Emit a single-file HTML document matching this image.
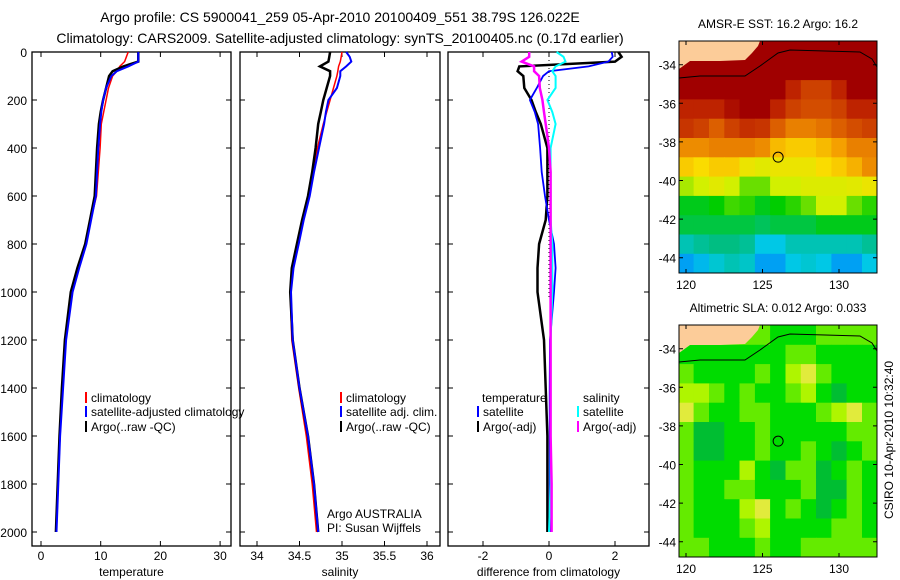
<!DOCTYPE html>
<html><head><meta charset="utf-8"><style>
body{margin:0;background:#fff;}
svg{display:block;font-family:"Liberation Sans",sans-serif;}
</style></head><body>
<svg id="s" width="900" height="580" xmlns="http://www.w3.org/2000/svg">
<text x="340" y="22" font-size="14" text-anchor="middle">Argo profile: CS 5900041_259 05-Apr-2010 20100409_551 38.79S 126.022E</text>
<text x="340" y="43" font-size="14" text-anchor="middle">Climatology: CARS2009. Satellite-adjusted climatology: synTS_20100405.nc (0.17d earlier)</text>
</svg>
<script>
// ---- profile data ----
var depths=[0,20,40,60,80,100,150,200,250,300,400,500,600,700,800,900,1000,1200,1400,1600,1800,2000];
var tempArgo=[16.3,16.3,16.3,13.8,12,11.4,10.9,10.4,10.0,9.7,9.4,9.2,9.0,8.2,7.4,6.1,5.0,4.0,3.5,3.1,2.8,2.5];
var tempClim=[14.6,14.3,14,13.2,12.7,12,11.3,10.9,10.5,10.1,9.9,9.6,9.3,8.3,7.5,6.3,5.2,4.1,3.6,3.2,2.8,2.5];
var tempSat=[16.3,16.3,16.3,14.6,12.7,11.8,10.9,10.4,10.1,9.9,9.6,9.4,9.2,8.4,7.6,6.4,5.3,4.2,3.7,3.2,2.9,2.6];
var salArgo=[34.86,34.85,34.84,34.74,34.86,34.86,34.82,34.78,34.75,34.72,34.69,34.65,34.6,34.53,34.47,34.41,34.39,34.42,34.5,34.6,34.67,34.72];
var salClim=[35.0,34.99,34.98,34.96,34.95,34.94,34.9,34.86,34.82,34.78,34.71,34.66,34.61,34.54,34.48,34.42,34.39,34.41,34.49,34.58,34.65,34.7];
var salSat=[35.05,35.09,35.11,35.05,34.98,34.98,34.94,34.84,34.81,34.79,34.73,34.67,34.62,34.55,34.49,34.43,34.4,34.42,34.5,34.6,34.67,34.72];
var dTempSat=[1.9,1.93,1.8,1.2,0.0,-0.18,-0.37,-0.58,-0.43,-0.33,-0.27,-0.22,-0.12,0,0.15,0.2,0.15,0.03,0.02,0.02,0.02,0.02];
var dTempArgo=[2.1,2.2,2.0,-0.9,-0.95,-0.78,-0.75,-0.53,-0.4,-0.25,-0.05,-0.05,-0.05,-0.1,-0.3,-0.35,-0.35,-0.15,-0.1,-0.05,-0.05,-0.05];
var dSalSat=[0.23,0.44,0.5,0.2,0.1,0.2,0.2,-0.05,0.1,0.2,0.05,0.05,0.05,0.05,0.1,0.1,0.1,0.05,0.05,0.05,0.05,0.0];
var dSalArgo=[-0.6,-0.6,-0.83,-0.45,-0.45,-0.3,-0.28,-0.2,-0.15,-0.1,0,0.05,0.05,0.05,0.05,0.05,0.05,0.05,0.05,0.05,0.08,0.08];
var depthTicks=[0,200,400,600,800,1000,1200,1400,1600,1800,2000];
var tempTicks=[0,10,20,30];
var salTicks=[34,34.5,35,35.5,36];
var salTickLabels=["34","34.5","35","35.5","36"];
var diffTicks=[-2,0,2];
// ---- map data (1-degree cells, rows from north) ----
var mapLons=[120,121,122,123,124,125,126,127,128,129,130,131,132];
var mapLats=[-33.3,-34.3,-35.3,-36.3,-37.3,-38.3,-39.3,-40.3,-41.3,-42.3,-43.3,-44.3];
var sstRows=[
[19,19,19,19,19,19,19,19,19,19,19,19,19],
[19,19,19,19,19,19,19,19,19,19,19,19,19],
[19,19,19,19,19,19,19,18.5,18,18,18.5,19,19],
[18.5,18.5,18.5,18.8,19,19,18.5,18,17.8,17.8,18,18.5,18.5],
[18.2,18,17.5,18,18.3,18.2,17.5,17,17,17.2,17.5,17.8,18],
[16.8,16.8,17,17,17,16.8,16.2,16,16,16.2,16.5,17,17],
[16,15.8,16,16,15.5,15.3,15.5,15.5,15.5,15.8,16,16.3,16.8],
[14.8,15,15.3,15,14.5,14.5,15,15,15.2,15.2,15.2,15.3,15.5],
[13.8,13.8,14,14.3,14.2,13.8,14,14.2,14.5,15,15,14.5,14.2],
[13.5,13.5,13.5,13.5,13.5,13.3,13.5,13.5,13.5,13.8,13.8,13.8,13.8],
[12.5,12.8,13,13,12.8,12,12,12.5,12.5,12.5,12.5,12.5,12.8],
[11.5,11.8,12.2,12.5,12.3,11.5,11.5,12,12.2,12,11.5,11.5,12]];
var slaRows=[
[2,2,2,2,2,2,1,1,1,2,2,2,2],
[1,1,1,1,1,1,1,2,2,1,1,1,1],
[2,1,1,1,1,2,1,3,4,2,1,1,1],
[3,3,2,1,2,1,1,2,3,1,0,1,1],
[4,2,1,1,2,2,1,1,1,2,3,4,2],
[2,0,0,1,1,2,1,1,1,1,1,2,2],
[2,0,0,1,1,2,1,1,2,1,0,1,2],
[2,1,1,1,3,1,0,2,2,0,1,2,1],
[2,1,1,2,2,1,1,1,2,0,0,2,1],
[2,1,1,1,3,4,1,2,1,0,1,2,1],
[2,1,1,1,2,3,1,1,1,1,2,2,1],
[2,2,1,1,1,2,1,1,2,2,2,2,2]];
var latTicks=[-34,-36,-38,-40,-42,-44];
var lonTicks=[120,125,130];
var argoLon=126.022, argoLat=-38.79;

var S=document.getElementById('s'),NS='http://www.w3.org/2000/svg';
function mk(t,a,p){var e=document.createElementNS(NS,t);for(var k in a)e.setAttribute(k,a[k]);(p||S).appendChild(e);return e;}
function yD(d){return 52+d*0.24;}
var pTop=52,pBot=546;
var panels=[
 {x0:32,x1:231,f:function(v){return 41+v*5.97;},ticks:tempTicks,labels:tempTicks.map(String),title:'temperature'},
 {x0:240,x1:440,f:function(v){return 257+(v-34)*85;},ticks:salTicks,labels:salTickLabels,title:'salinity'},
 {x0:448,x1:649,f:function(v){return 549+v*33;},ticks:diffTicks,labels:diffTicks.map(String),title:'difference from climatology'}];
panels.forEach(function(p,i){
 var r=mk('rect',{x:p.x0,y:pTop,width:p.x1-p.x0,height:pBot-pTop,fill:'none',stroke:'#000','stroke-width':1.3});
 
 
 depthTicks.forEach(function(d){
  var t=mk('path',{d:'M'+p.x0+' '+yD(d)+'h5M'+p.x1+' '+yD(d)+'h-5',stroke:'#000'});
  
  
  if(i==0){var l=mk('text',{x:27,y:yD(d)+5,'font-size':12,'text-anchor':'end'});l.textContent=d;
   
   }
 });
 p.ticks.forEach(function(v,j){
  var x=p.f(v);
  var t=mk('path',{d:'M'+x+' '+pBot+'v-5M'+x+' '+pTop+'v5',stroke:'#000'});
  
  
  var l=mk('text',{x:x,y:560,'font-size':12,'text-anchor':'middle'});l.textContent=p.labels[j];
  
  
 });
 var at=mk('text',{x:(p.x0+p.x1)/2,y:576,'font-size':12,'text-anchor':'middle'});at.textContent=p.title;
 
 
});
function line(vals,p,col,w,name){
 var d=vals.map(function(v,k){return (k?'L':'M')+p.f(v).toFixed(1)+' '+yD(depths[k]).toFixed(1);}).join('');
 var e=mk('path',{d:d,fill:'none',stroke:col,'stroke-width':w});
 
 
}
var z=mk('line',{x1:549,x2:549,y1:52,y2:300,stroke:'#000','stroke-dasharray':'1,3'});


line(tempClim,panels[0],'#f00',1.5,'temp-climatology-line');
line(tempArgo,panels[0],'#000',2.5,'temp-argo-line');
line(tempSat,panels[0],'#00f',2,'temp-satellite-line');
line(salClim,panels[1],'#f00',1.5,'sal-climatology-line');
line(salArgo,panels[1],'#000',2.5,'sal-argo-line');
line(salSat,panels[1],'#00f',2,'sal-satellite-line');
line(dTempArgo,panels[2],'#000',2.5,'diff-temp-argo-line');
line(dTempSat,panels[2],'#00f',1.8,'diff-temp-satellite-line');
line(dSalSat,panels[2],'#0ff',2,'diff-sal-satellite-line');
line(dSalArgo,panels[2],'#f0f',2.5,'diff-sal-argo-line');
function leg(x,y,col,txt,name){
 if(col){var b=mk('rect',{x:x-6,y:y-10,width:2,height:11,fill:col});
  
  }
 var t=mk('text',{x:x,y:y,'font-size':12});t.textContent=txt;
 
 
}
leg(91,402,'#f00','climatology','legend-climatology');
leg(91,416,'#00f','satellite-adjusted climatology','legend-satellite-adjusted');
leg(91,431,'#000','Argo(..raw -QC)','legend-argo');
leg(346,402,'#f00','climatology','legend-sal-climatology');
leg(346,416,'#00f','satellite adj. clim.','legend-sal-satellite');
leg(346,431,'#000','Argo(..raw -QC)','legend-sal-argo');
leg(482,402,null,'temperature','legend-temperature-header');
leg(483,416,'#00f','satellite','legend-diff-temp-satellite');
leg(483,431,'#000','Argo(-adj)','legend-diff-temp-argo');
leg(583,402,null,'salinity','legend-salinity-header');
leg(583,416,'#0ff','satellite','legend-diff-sal-satellite');
leg(583,431,'#f0f','Argo(-adj)','legend-diff-sal-argo');
leg(327,518,null,'Argo AUSTRALIA','argo-country-label');
leg(327,532,null,'PI: Susan Wijffels','pi-label');
// ---- maps ----
var sstStops=[[11,[0,120,255]],[12,[0,200,230]],[13,[0,190,130]],[14,[0,205,0]],[15,[210,240,0]],[15.8,[250,220,0]],[16.5,[245,160,0]],[17.5,[220,95,0]],[18.5,[190,35,0]],[19,[160,0,0]]];
var slaCols=['rgb(0,190,50)','rgb(0,220,0)','rgb(100,235,0)','rgb(175,245,0)','rgb(225,235,60)'];
function cmap(v){for(var i=1;i<sstStops.length;i++){if(v<=sstStops[i][0]){var a=sstStops[i-1],b=sstStops[i],t=Math.max(0,(v-a[0])/(b[0]-a[0]));return 'rgb('+a[1].map(function(c,k){return Math.round(c+(b[1][k]-c)*t);}).join(',')+')';}}return 'rgb(160,0,0)';}
function drawMap(mTop,rows,colFn,title,tag){
 var L=679,R=877,H=232;
 var lx=function(lon){return 686+(lon-120)*15.3;};
 var ly=function(lat){return mTop+23.7+(-34-lat)*19.3;};
 var g=mk('g',{});
 
 
 rows.forEach(function(row,r){row.forEach(function(v,c){
  var x=lx(mapLons[c]-0.5),y=ly(mapLats[r]+0.5);
  var e=mk('rect',{x:Math.max(L,x).toFixed(1),y:Math.max(mTop,y).toFixed(1),width:(Math.min(R,x+15.3)-Math.max(L,x)+0.5).toFixed(1),height:(Math.min(mTop+H,y+19.3)-Math.max(mTop,y)+0.5).toFixed(1),fill:colFn(v)},g);
  
  
 });});
 var land=mk('path',{d:'M'+L+' '+(mTop+28)+'L690 '+(mTop+20)+'L720 '+(mTop+20)+'L745 '+(mTop+19)+'L752 '+(mTop+12)+'L758 '+(mTop+5)+'L760 '+mTop+'L'+L+' '+mTop+'Z',fill:'#fccc99'},g);
 
 
 var cl=mk('path',{d:'M'+L+' '+(mTop+37)+'L700 '+(mTop+35)+'L745 '+(mTop+35)+'L760 '+(mTop+25)+'L778 '+(mTop+12)+'L790 '+(mTop+9)+'L860 '+(mTop+11)+'L872 '+(mTop+18)+'L'+R+' '+(mTop+26),fill:'none',stroke:'#000','stroke-width':1},g);
 
 
 var fr=mk('rect',{x:L,y:mTop,width:R-L,height:H,fill:'none',stroke:'#000'},g);
 
 
 var ci=mk('circle',{cx:lx(argoLon),cy:ly(argoLat),r:5,fill:'none',stroke:'#000'},g);
 
 
 latTicks.forEach(function(la){var y=ly(la);
  mk('path',{d:'M'+L+' '+y+'h4M'+R+' '+y+'h-4',stroke:'#000'},g);
  var t=mk('text',{x:676,y:y+5,'font-size':12,'text-anchor':'end'},g);t.textContent=la;
  
  });
 lonTicks.forEach(function(lo){var x=lx(lo);
  mk('path',{d:'M'+x+' '+mTop+'v4M'+x+' '+(mTop+H)+'v-4',stroke:'#000'},g);
  var t=mk('text',{x:x,y:mTop+H+16,'font-size':12,'text-anchor':'middle'},g);t.textContent=lo;
  
  });
 var tt=mk('text',{x:778,y:mTop-13,'font-size':12,'text-anchor':'middle'},g);tt.textContent=title;
 
 
}
drawMap(41,sstRows,cmap,'AMSR-E SST: 16.2  Argo: 16.2','sst');
drawMap(325,slaRows,function(v){return slaCols[v];},'Altimetric SLA: 0.012  Argo: 0.033','sla');
var st=mk('text',{x:0,y:0,'font-size':12,'text-anchor':'middle',transform:'translate(893,440) rotate(-90)'});
st.textContent='CSIRO 10-Apr-2010 10:32:40';


</script>
</body></html>
